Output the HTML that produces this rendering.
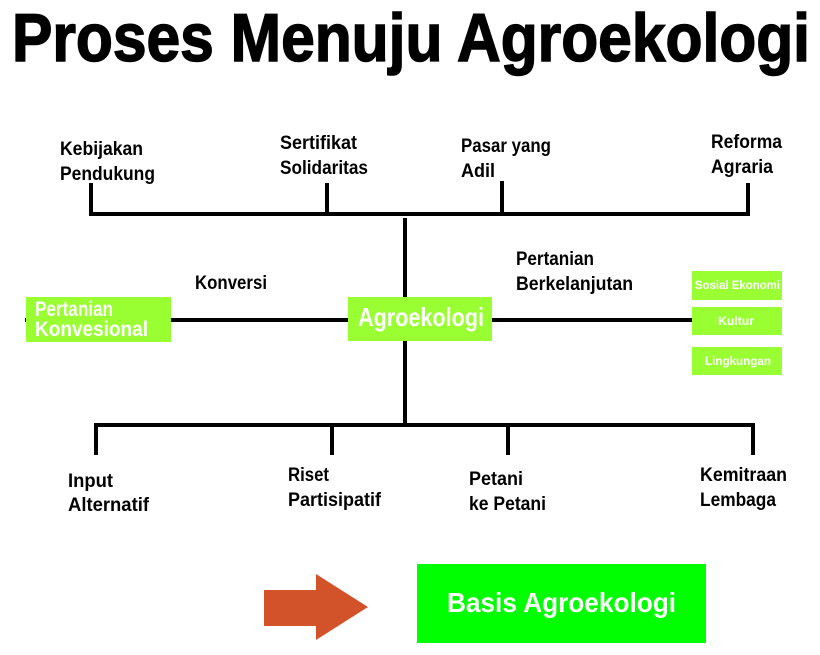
<!DOCTYPE html>
<html><head><meta charset="utf-8"><style>
html,body{margin:0;padding:0;background:#fff;width:820px;height:655px;overflow:hidden}
text{font-family:"Liberation Sans Narrow","Liberation Sans",sans-serif;font-weight:bold}
</style></head><body>
<svg width="820" height="655" viewBox="0 0 820 655" xmlns="http://www.w3.org/2000/svg">
<text x="12" y="61" font-size="68" textLength="798" lengthAdjust="spacingAndGlyphs" fill="#000" stroke="#000" stroke-width="1.5">Proses Menuju Agroekologi</text>
<g stroke="#000" stroke-width="4" fill="none">
<path d="M91 183V214H748V183M327 183V214M502 181V214"/>
<path d="M405 218V425"/>
<path d="M25 320H692"/>
<path d="M96 455V425H753V455M332 425V455M508 425V455"/>
</g>
<g font-size="19" fill="#000">
<text x="60" y="155" textLength="83" lengthAdjust="spacingAndGlyphs">Kebijakan</text>
<text x="60" y="180" textLength="95" lengthAdjust="spacingAndGlyphs">Pendukung</text>
<text x="280" y="149" textLength="77" lengthAdjust="spacingAndGlyphs">Sertifikat</text>
<text x="280" y="174" textLength="88" lengthAdjust="spacingAndGlyphs">Solidaritas</text>
<text x="461" y="152" textLength="90" lengthAdjust="spacingAndGlyphs">Pasar yang</text>
<text x="461" y="177" textLength="34" lengthAdjust="spacingAndGlyphs">Adil</text>
<text x="711" y="148" textLength="71" lengthAdjust="spacingAndGlyphs">Reforma</text>
<text x="711" y="173" textLength="62" lengthAdjust="spacingAndGlyphs">Agraria</text>
<text x="195" y="289" textLength="72" lengthAdjust="spacingAndGlyphs">Konversi</text>
<text x="516" y="265" textLength="78" lengthAdjust="spacingAndGlyphs">Pertanian</text>
<text x="516" y="290" textLength="117" lengthAdjust="spacingAndGlyphs">Berkelanjutan</text>
<text x="68" y="487" textLength="45" lengthAdjust="spacingAndGlyphs">Input</text>
<text x="68" y="511" textLength="81" lengthAdjust="spacingAndGlyphs">Alternatif</text>
<text x="288" y="481" textLength="41" lengthAdjust="spacingAndGlyphs">Riset</text>
<text x="288" y="506" textLength="93" lengthAdjust="spacingAndGlyphs">Partisipatif</text>
<text x="469" y="485" textLength="54" lengthAdjust="spacingAndGlyphs">Petani</text>
<text x="469" y="510" textLength="77" lengthAdjust="spacingAndGlyphs">ke Petani</text>
<text x="700" y="481" textLength="87" lengthAdjust="spacingAndGlyphs">Kemitraan</text>
<text x="700" y="506" textLength="76" lengthAdjust="spacingAndGlyphs">Lembaga</text>
</g>
<g fill="#99ff33">
<rect x="26" y="297" width="145" height="45"/>
<rect x="348" y="297" width="144" height="44"/>
<rect x="692" y="271" width="90" height="29"/>
<rect x="692" y="307" width="90" height="28"/>
<rect x="692" y="347" width="90" height="28"/>
</g>
<g fill="#fff">
<text x="35" y="316" font-size="21" textLength="78" lengthAdjust="spacingAndGlyphs">Pertanian</text>
<text x="35" y="336" font-size="21" textLength="113" lengthAdjust="spacingAndGlyphs">Konvesional</text>
<text x="358" y="326" font-size="26" textLength="126" lengthAdjust="spacingAndGlyphs">Agroekologi</text>
<text x="695" y="289" font-size="12" textLength="85" lengthAdjust="spacingAndGlyphs">Sosial Ekonomi</text>
<text x="718" y="325" font-size="12" textLength="36" lengthAdjust="spacingAndGlyphs">Kultur</text>
<text x="705" y="365" font-size="12" textLength="66" lengthAdjust="spacingAndGlyphs">Lingkungan</text>
</g>
<rect x="417" y="564" width="289" height="79" fill="#00ff00"/>
<text x="447" y="612" font-size="28" fill="#fff" textLength="229" lengthAdjust="spacingAndGlyphs">Basis Agroekologi</text>
<polygon points="264,590 316,590 316,574 368,607 316,640 316,626 264,626" fill="#d2522a"/>
</svg>
</body></html>
